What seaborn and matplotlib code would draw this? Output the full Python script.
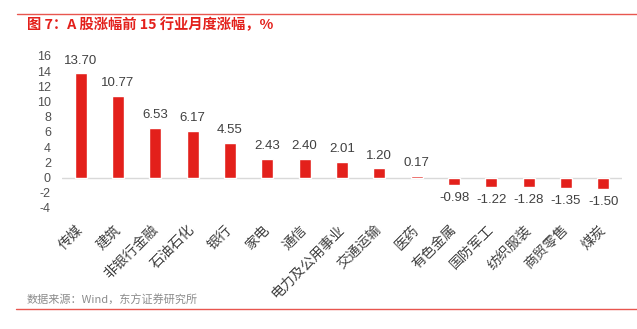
import matplotlib
matplotlib.use("Agg")
import matplotlib.pyplot as plt
import seaborn as sns
import pandas as pd

industries = ["传媒", "建筑", "非银行金融", "石油石化", "银行", "家电", "通信",
              "电力及公用事业", "交通运输", "医药", "有色金属", "国防军工",
              "纺织服装", "商贸零售", "煤炭"]
changes = [13.70, 10.77, 6.53, 6.17, 4.55, 2.43, 2.40, 2.01, 1.20, 0.17,
           -0.98, -1.22, -1.28, -1.35, -1.50]
yticks = [16, 14, 12, 10, 8, 6, 4, 2, 0, -2, -4]

title = "图 7：A 股涨幅前 15 行业月度涨幅，%"
source = "数据来源：Wind，东方证券研究所"

sns.set_theme(style="white")
plt.rcParams["font.family"] = ["Noto Sans CJK SC", "DejaVu Sans"]

RED = "#E3201B"
TEXT = "#404040"
NUM_FONT = ["Liberation Sans", "DejaVu Sans"]

df = pd.DataFrame({"industry": industries, "change": changes})

fig = plt.figure(figsize=(6.37, 3.29), dpi=100)
ax = fig.add_axes([62 / 637, 1 - 208 / 329, 560 / 637, 152 / 329])

sns.barplot(data=df, x="industry", y="change", color=RED, saturation=1,
            width=0.32, ax=ax)
ax.set_xlim(-0.5, len(industries) - 0.5)
ax.set_ylim(-4, 16)
ax.set_yticks(yticks)
ax.set_yticklabels([str(v) for v in yticks], fontsize=9, color="#505050",
                   family=NUM_FONT)
ax.set_xlabel("")
ax.set_ylabel("")
ax.tick_params(axis="y", length=0, pad=8)
ax.set_xticks(range(len(industries)))
ax.set_xticklabels(industries, rotation=45, ha="right", va="center",
                   rotation_mode="anchor", fontsize=10, color=TEXT)
ax.tick_params(axis="x", length=0, pad=14)
for s in ax.spines.values():
    s.set_visible(False)
ax.axhline(0, color="#D9D9D9", lw=1, zorder=0)

for i, v in enumerate(changes):
    if v >= 0:
        ax.annotate(f"{v:.2f}", (i, v), xytext=(0, 5), textcoords="offset points",
                    ha="center", va="bottom", fontsize=9.5, color=TEXT,
                    family=NUM_FONT)
    else:
        ax.annotate(f"{v:.2f}", (i, v), xytext=(0, -5), textcoords="offset points",
                    ha="center", va="top", fontsize=9.5, color=TEXT,
                    family=NUM_FONT)

# header / footer rules
fig.add_artist(plt.Line2D([17 / 637, 1], [1 - 14 / 329] * 2, color="#E8564F", lw=1))
fig.add_artist(plt.Line2D([16 / 637, 1], [1 - 309 / 329] * 2, color="#E8564F", lw=1))
fig.text(27 / 637, 1 - 25 / 329, title, color=RED, fontsize=10.3, fontweight="bold",
         va="center", ha="left")
fig.text(27 / 637, 1 - 300 / 329, source, color="#8C8C8C", fontsize=8,
         va="center", ha="left")

fig.savefig("out.png", dpi=100)
